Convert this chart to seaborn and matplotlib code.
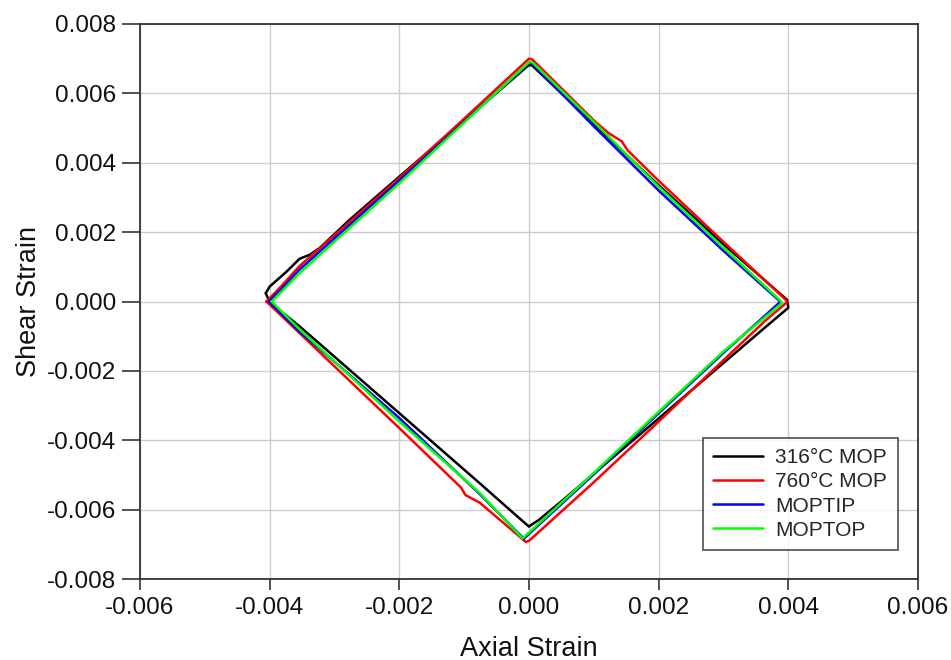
import matplotlib
matplotlib.use("Agg")
import matplotlib.pyplot as plt
import numpy as np
import pandas as pd
import seaborn as sns

# Strain-path loops (units of 1e-3), traced around each diamond:
# left vertex -> top -> right -> bottom -> back to left
series_names = ["316°C MOP", "760°C MOP", "MOPTIP", "MOPTOP"]
series_colors = ["#000000", "#ff0000", "#0000ff", "#00ff00"]

axial_316 = [-4.06, -4.00, -3.74, -3.54, -3.38, -3.23, -2.77, -2.00, -1.00, 0.00,
             0.05, 1.00, 2.00, 3.00, 3.98, 4.00, 3.64, 2.00, 0.50, 0.15,
             0.05, 0.00, -0.30, -0.76, -2.00, -3.53, -4.00, -4.06]
shear_316 = [0.24, 0.43, 0.86, 1.23, 1.35, 1.54, 2.35, 3.60, 5.21, 6.82,
             6.80, 5.12, 3.35, 1.65, 0.05, -0.18, -0.75, -3.37, -5.76, -6.30,
             -6.42, -6.49, -6.00, -5.24, -3.22, -0.73, -0.02, 0.24]

axial_760 = [-4.05, -3.85, -3.54, -2.00, -1.00, 0.00, 0.05, 1.00, 1.23, 1.43,
             1.52, 2.00, 3.00, 3.96, 3.98, 3.64, 2.00, 1.00, 0.00, -0.05,
             -0.76, -0.98, -1.05, -2.00, -3.54, -4.05]
shear_760 = [0.00, 0.38, 1.02, 3.56, 5.27, 7.00, 6.98, 5.22, 4.85, 4.62,
             4.36, 3.48, 1.72, 0.05, -0.02, -0.56, -3.46, -5.21, -6.90, -6.93,
             -5.80, -5.58, -5.36, -3.65, -0.91, 0.00]

axial_tip = [-4.01, -3.80, -3.54, -2.00, -1.00, 0.00, 0.05, 1.00, 2.00, 3.00,
             3.85, 3.87, 3.00, 2.00, 1.00, 0.00, -0.08, -0.76, -2.00, -3.54, -4.01]
shear_tip = [0.00, 0.40, 0.92, 3.49, 5.18, 6.88, 6.86, 5.05, 3.20, 1.46,
             0.04, -0.02, -1.48, -3.22, -4.98, -6.70, -6.84, -5.55, -3.36, -0.86, 0.00]

axial_top = [-3.97, -3.80, -3.54, -2.00, -1.00, 0.00, 0.05, 1.00, 2.00, 3.00,
             3.88, 3.90, 3.00, 2.00, 1.00, 0.00, -0.10, -0.76, -2.00, -3.54, -3.97]
shear_top = [0.00, 0.32, 0.82, 3.41, 5.16, 6.90, 6.90, 5.18, 3.31, 1.55,
             0.02, -0.05, -1.44, -3.18, -4.94, -6.66, -6.83, -5.52, -3.46, -0.80, 0.00]

axial_all = [axial_316, axial_760, axial_tip, axial_top]
shear_all = [shear_316, shear_760, shear_tip, shear_top]

frames = []
for name, ax_vals, sh_vals in zip(series_names, axial_all, shear_all):
    frames.append(pd.DataFrame({
        "Axial Strain": np.array(ax_vals) * 1e-3,
        "Shear Strain": np.array(sh_vals) * 1e-3,
        "Series": name,
    }))
df = pd.concat(frames, ignore_index=True)

x_ticks = [-0.006, -0.004, -0.002, 0.0, 0.002, 0.004, 0.006]
y_ticks = [-0.008, -0.006, -0.004, -0.002, 0.0, 0.002, 0.004, 0.006, 0.008]

sns.set_theme(style="whitegrid")
plt.rcParams["font.family"] = ["Liberation Sans", "DejaVu Sans"]

fig = plt.figure(figsize=(9.51, 6.60), dpi=100)
ax = fig.add_axes([140 / 951, 81 / 660, 778 / 951, 555 / 660])

sns.lineplot(data=df, x="Axial Strain", y="Shear Strain", hue="Series",
             units="Series", estimator=None, sort=False,
             palette=dict(zip(series_names, series_colors)),
             hue_order=series_names, linewidth=1.8, ax=ax)

ax.set_xlim(-0.006, 0.006)
ax.set_ylim(-0.008, 0.008)
ax.set_xticks(x_ticks)
ax.set_yticks(y_ticks)
ax.set_xticklabels([f"{v:.3f}" for v in x_ticks])
ax.set_yticklabels([f"{v:.3f}" for v in y_ticks])
ax.tick_params(axis="both", which="both", direction="out", width=1.2,
               color="#333333", labelsize=17.5, labelcolor="#111111",
               bottom=True, left=True, top=False, right=False)
ax.tick_params(axis="y", length=13, pad=4)
ax.tick_params(axis="x", length=8, pad=5)
ax.grid(True, color="#cccccc", linewidth=1.0)
ax.set_facecolor("white")
for side in ["left", "bottom", "top", "right"]:
    ax.spines[side].set_visible(True)
    ax.spines[side].set_color("#333333")
    ax.spines[side].set_linewidth(1.3)

ax.set_xlabel("Axial Strain", fontsize=19.5, color="#111111", labelpad=12)
ax.set_ylabel("Shear Strain", fontsize=19.5, color="#111111", labelpad=4)

leg = ax.legend(loc="lower right", bbox_to_anchor=(0.974, 0.052),
                borderaxespad=0, frameon=True, fancybox=False,
                fontsize=15, handlelength=2.4, labelspacing=0.25,
                handletextpad=0.6, borderpad=0.5, title=None)
leg.get_frame().set_edgecolor("#222222")
leg.get_frame().set_linewidth(1.2)
for line in leg.get_lines():
    line.set_linewidth(1.8)

fig.savefig("out.png", dpi=100)
